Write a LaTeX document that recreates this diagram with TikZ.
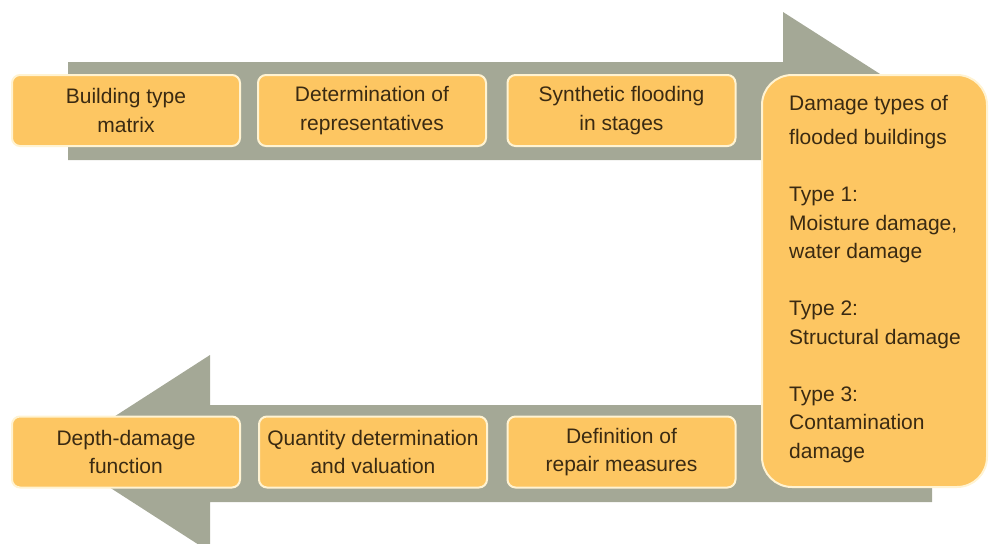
\documentclass[tikz,border=0pt]{standalone}
\usepackage{fontspec}
\setmainfont{Liberation Sans}
\definecolor{arrowgray}{RGB}{164,168,150}
\definecolor{boxfill}{RGB}{253,198,98}
\definecolor{boxedge}{RGB}{255,243,210}
\definecolor{txt}{RGB}{58,42,18}
\tikzset{
  bigarrow/.style={fill=arrowgray, draw=none},
  stepbox/.style={rectangle, rounded corners=8pt, fill=boxfill, draw=boxedge, line width=2pt,
    minimum width=228pt, minimum height=71pt, align=center, text=txt,
    font=\fontsize{21}{28.5}\selectfont, inner sep=0pt},
  damagebox/.style={rectangle, rounded corners=30pt, fill=boxfill, draw=boxedge, line width=2pt,
    minimum width=225pt, minimum height=412pt},
  damagetext/.style={align=left, text=txt, font=\fontsize{21}{28.5}\selectfont, inner sep=0pt, anchor=north west}
}
\begin{document}
\begin{tikzpicture}[x=1pt,y=-1pt]
\useasboundingbox (0,0) rectangle (989,544);
\begin{scope}
\clip (0,0) rectangle (989,544);
% top arrow (to the right)
\fill[bigarrow] (68,62) -- (783,62) -- (783,12) -- (938,111) -- (783,210) -- (783,160) -- (68,160) -- cycle;
% bottom arrow (to the left)
\fill[bigarrow] (932,405) -- (210,405) -- (210,355) -- (57,453.5) -- (210,552) -- (210,502) -- (932,502) -- cycle;
\end{scope}
% top row
\node[stepbox] (b1) at (126,110.5) {Building type\\matrix};
\node[stepbox] (b2) at (372,110.5) {Determination of\\representatives};
\node[stepbox] (b3) at (621.5,110.5) {Synthetic flooding\\in stages};
% damage box
\node[damagebox] (dmg) at (874.5,281) {};
\node[damagetext] (dmgtxt) at (789,95.5) {Damage types of\\[5.5pt]flooded buildings\\[28.5pt]Type 1:\\Moisture damage,\\water damage\\[28.5pt]Type 2:\\Structural damage\\[28.5pt]Type 3:\\Contamination\\damage};
% bottom row
\node[stepbox] (b4) at (126,452) {Depth-damage\\function};
\node[stepbox] (b5) at (373,452) {Quantity determination\\and valuation};
\node[stepbox] (b6) at (621.5,452) {Definition of\\repair measures};
\end{tikzpicture}
\end{document}
